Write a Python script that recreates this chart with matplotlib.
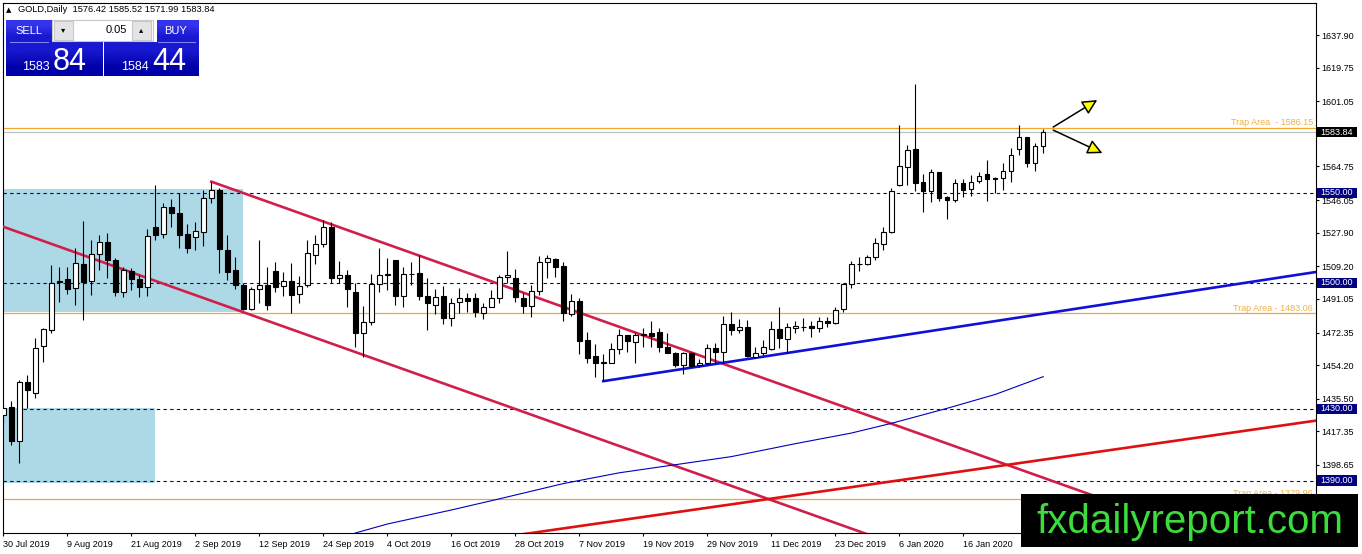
import numpy as np
import matplotlib
matplotlib.use('Agg')
import matplotlib.pyplot as plt
from matplotlib.patches import Rectangle

plt.rcParams['font.family'] = ['Liberation Sans', 'DejaVu Sans']

# daily candles, 30 Jul 2019 .. 30 Jan 2020
opens = [1426.4, 1430.7, 1412.1, 1444.6, 1438.9, 1465.0, 1473.7, 1501.3, 1502.1, 1496.9,
         1510.4, 1501.2, 1515.9, 1522.9, 1512.7, 1495.0, 1506.7, 1501.9, 1497.5, 1531.2,
         1527.0, 1542.0, 1539.0, 1527.2, 1525.7, 1528.4, 1547.0, 1551.6, 1518.3, 1507.1,
         1498.8, 1485.3, 1496.4, 1498.8, 1506.6, 1498.2, 1501.0, 1493.6, 1498.8, 1515.5,
         1521.6, 1530.9, 1502.8, 1504.3, 1495.0, 1471.9, 1478.4, 1499.3, 1505.0, 1512.7,
         1492.8, 1504.8, 1505.3, 1492.8, 1487.6, 1492.8, 1480.3, 1489.5, 1491.4, 1491.4,
         1483.4, 1486.7, 1491.4, 1503.1, 1502.5, 1491.4, 1487.1, 1495.6, 1511.7, 1513.1,
         1509.4, 1482.6, 1490.0, 1468.2, 1459.3, 1455.8, 1455.5, 1463.0, 1470.9, 1466.9,
         1470.9, 1471.9, 1472.8, 1464.1, 1460.8, 1454.3, 1461.1, 1454.3, 1455.2, 1463.9,
         1461.7, 1477.1, 1473.8, 1475.3, 1458.9, 1461.1, 1463.4, 1474.5, 1468.6, 1474.6,
         1475.5, 1475.9, 1474.6, 1478.6, 1477.5, 1485.3, 1499.3, 1510.4, 1510.4, 1514.2,
         1521.6, 1528.4, 1554.4, 1564.6, 1574.5, 1555.9, 1551.3, 1561.5, 1547.9, 1546.1,
         1555.4, 1552.0, 1556.8, 1560.4, 1558.5, 1558.2, 1562.2, 1574.3, 1581.0, 1566.5,
         1576.42]
highs = [1433.1, 1434.4, 1445.9, 1448.7, 1469.1, 1474.9, 1509.9, 1509.0, 1508.6, 1519.2,
         1534.6, 1523.8, 1526.6, 1527.9, 1513.6, 1509.0, 1508.1, 1504.3, 1529.8, 1554.4,
         1544.2, 1546.5, 1549.8, 1532.7, 1534.0, 1551.6, 1556.3, 1552.6, 1526.6, 1514.5,
         1499.7, 1497.8, 1523.8, 1509.0, 1511.7, 1506.2, 1510.8, 1503.8, 1523.8, 1526.6,
         1535.0, 1534.0, 1512.3, 1507.1, 1499.7, 1487.1, 1504.9, 1519.2, 1513.6, 1512.7,
         1509.0, 1511.7, 1515.5, 1502.5, 1496.4, 1498.2, 1491.4, 1497.0, 1494.2, 1494.5,
         1488.6, 1496.0, 1504.3, 1517.9, 1507.5, 1494.2, 1498.8, 1514.9, 1515.5, 1513.6,
         1511.7, 1493.8, 1491.4, 1472.8, 1465.9, 1460.4, 1466.3, 1474.3, 1470.9, 1472.8,
         1474.7, 1478.9, 1474.7, 1471.9, 1461.7, 1461.7, 1461.7, 1457.9, 1465.9, 1466.7,
         1481.5, 1484.0, 1479.7, 1479.3, 1464.4, 1468.2, 1478.9, 1486.7, 1477.5, 1478.9,
         1480.3, 1478.9, 1481.2, 1480.8, 1486.4, 1500.1, 1512.1, 1514.5, 1515.5, 1524.8,
         1531.2, 1552.6, 1587.8, 1576.7, 1610.6, 1560.5, 1563.2, 1561.9, 1548.3, 1557.6,
         1557.6, 1560.0, 1561.9, 1568.3, 1558.7, 1566.8, 1574.8, 1587.8, 1581.3, 1577.6,
         1585.52]
lows = [1422.0, 1409.7, 1399.9, 1430.1, 1435.7, 1456.1, 1471.9, 1489.5, 1493.8, 1487.6,
        1479.3, 1493.2, 1507.1, 1502.5, 1492.7, 1492.3, 1496.0, 1491.9, 1492.7, 1523.8,
        1524.8, 1531.2, 1519.2, 1516.4, 1518.3, 1520.5, 1544.2, 1505.6, 1501.6, 1496.4,
        1484.9, 1484.9, 1488.6, 1484.9, 1495.0, 1492.7, 1483.4, 1488.6, 1497.5, 1510.4,
        1520.1, 1499.7, 1499.7, 1486.4, 1464.1, 1458.9, 1476.6, 1495.0, 1496.0, 1487.6,
        1486.4, 1498.8, 1490.4, 1473.7, 1482.6, 1476.9, 1476.2, 1483.0, 1484.0, 1480.8,
        1479.7, 1486.4, 1489.0, 1499.7, 1489.5, 1483.4, 1480.8, 1493.2, 1502.8, 1503.4,
        1478.9, 1481.3, 1460.4, 1455.5, 1447.8, 1445.5, 1455.2, 1460.4, 1461.7, 1455.5,
        1464.1, 1464.4, 1461.7, 1460.8, 1453.4, 1449.3, 1453.4, 1453.4, 1454.3, 1455.5,
        1455.2, 1470.9, 1471.9, 1458.6, 1458.0, 1459.8, 1462.6, 1463.6, 1461.1, 1472.2,
        1473.4, 1470.0, 1472.8, 1475.3, 1477.1, 1483.9, 1496.9, 1506.8, 1509.9, 1512.7,
        1518.3, 1527.6, 1553.9, 1554.4, 1551.3, 1539.6, 1545.1, 1545.7, 1535.3, 1545.1,
        1547.6, 1548.3, 1555.7, 1545.7, 1550.1, 1551.6, 1556.3, 1571.1, 1564.3, 1562.4,
        1571.99]
closes = [1430.3, 1412.1, 1444.6, 1440.3, 1463.6, 1474.1, 1500.1, 1500.3, 1496.4, 1510.8,
          1500.6, 1516.0, 1522.5, 1512.7, 1495.0, 1507.1, 1501.9, 1497.5, 1526.2, 1526.6,
          1542.0, 1538.7, 1526.6, 1519.5, 1528.8, 1547.0, 1551.6, 1518.6, 1506.2, 1498.8,
          1485.3, 1496.4, 1498.8, 1487.6, 1497.8, 1501.0, 1493.2, 1498.2, 1516.4, 1521.4,
          1530.9, 1502.8, 1504.3, 1496.4, 1471.9, 1478.4, 1499.5, 1504.3, 1504.3, 1492.7,
          1504.7, 1505.1, 1492.8, 1488.6, 1492.3, 1480.6, 1488.9, 1491.4, 1490.1, 1484.0,
          1486.7, 1491.4, 1503.4, 1504.3, 1491.9, 1487.1, 1495.6, 1511.7, 1513.6, 1509.0,
          1483.4, 1490.0, 1467.8, 1458.3, 1455.2, 1455.2, 1463.2, 1470.9, 1467.6, 1470.9,
          1471.5, 1470.4, 1464.1, 1461.1, 1454.3, 1460.8, 1453.7, 1455.5, 1463.6, 1461.7,
          1477.1, 1473.8, 1475.3, 1459.3, 1461.1, 1464.4, 1474.1, 1469.1, 1475.3, 1475.9,
          1475.7, 1474.6, 1478.6, 1477.5, 1484.9, 1499.3, 1510.4, 1510.6, 1514.2, 1522.0,
          1528.4, 1551.3, 1565.0, 1573.9, 1555.7, 1551.3, 1561.5, 1547.0, 1546.1, 1555.4,
          1551.6, 1556.3, 1559.6, 1557.6, 1557.8, 1562.2, 1571.1, 1581.0, 1566.5, 1576.1,
          1583.84]
ask_price = 1584.44

# moving average (thin blue), sampled along the line
ma_bars = [44, 48, 56, 62, 70, 77, 84, 91, 99, 106, 111, 118, 124, 130]
ma_values = [1360.8, 1365.8, 1373.6, 1379.8, 1388.3, 1394.3, 1398.8, 1403.3, 1410.5,
             1416.4, 1421.8, 1430.2, 1437.9, 1447.8]

date_labels = ['30 Jul 2019', '9 Aug 2019', '21 Aug 2019', '2 Sep 2019', '12 Sep 2019',
               '24 Sep 2019', '4 Oct 2019', '16 Oct 2019', '28 Oct 2019', '7 Nov 2019',
               '19 Nov 2019', '29 Nov 2019', '11 Dec 2019', '23 Dec 2019', '6 Jan 2020',
               '16 Jan 2020']
y_ticks = [1637.90, 1619.75, 1601.05, 1564.75, 1546.05, 1527.90, 1509.20,
           1491.05, 1472.35, 1454.20, 1435.50, 1417.35, 1398.65, 1380.50]

# drawing objects
dashed_levels = [1550.00, 1500.00, 1430.00, 1390.00]
trap_levels = [1586.15, 1483.06, 1379.96]
trap_texts = ['Trap Area  - 1586.15', 'Trap Area - 1483.06', 'Trap Area - 1379.96']
boxes = [(-5, 30, 1483.5, 1552.2), (-5, 19, 1388.5, 1430.5)]   # bar0, bar1, low, high
channel_top = [(26, 1556.3), (70, 1486.6)]
channel_bottom = [(26, 1490.0), (70, 1420.3)]
blue_trend = [(75, 1445.3), (130, 1482.8)]
red_trend = [(66, 1360.8), (130, 1401.6)]
arrows = [((131.25, 1586.7), (136.75, 1601.7)), ((131.25, 1585.0), (137.4, 1572.2))]

W, H = 1362, 554
fig = plt.figure(figsize=(W / 100, H / 100), dpi=100)
ax = fig.add_axes([3 / W, 21 / H, 1313 / W, 530.5 / H])
ax.set_xlim(-0.05, 164.1)
ax.set_ylim(1360.8, 1656.0)

# light blue zones
for b0, b1, lo, hi in boxes:
    ax.add_patch(Rectangle((b0, lo), b1 - b0, hi - lo, facecolor='#ADD8E6',
                           edgecolor='none', zorder=0.5))

# horizontal levels
for lv in dashed_levels:
    ax.axhline(lv, color='#000080', lw=0.8, ls=(0, (3, 3)), zorder=1)
for lv, txt in zip(trap_levels, trap_texts):
    ax.axhline(lv, color='#F0A830', lw=0.9, zorder=1)
    ax.text(1 - 3 / 1313, lv + 0.4, txt, transform=ax.get_yaxis_transform(),
            ha='right', va='bottom', fontsize=6.5, color='#F0B040', zorder=1)
ax.axhline(closes[-1], color='#C0C0C0', lw=0.9, zorder=1)


def ray(p, q, start, end):
    slope = (q[1] - p[1]) / (q[0] - p[0])
    xs = np.array([start, end])
    return xs, p[1] + slope * (xs - p[0])


xs, ys = ray(*channel_top, 26, 200)
ax.plot(xs, ys, color='#D0204A', lw=1.9, zorder=3)
xs, ys = ray(*channel_bottom, -20, 200)
ax.plot(xs, ys, color='#D0204A', lw=1.9, zorder=3)
xs, ys = ray(*blue_trend, 75, 200)
ax.plot(xs, ys, color='#1010D8', lw=1.9, zorder=3)
xs, ys = ray(*red_trend, 40, 200)
ax.plot(xs, ys, color='#E01010', lw=1.9, zorder=3)
ax.plot(ma_bars, ma_values, color='#0000C0', lw=0.8, zorder=3)

# candles
idx = np.arange(len(opens))
o = np.array(opens)
c = np.array(closes)
ax.vlines(idx, lows, highs, color='black', lw=0.8, zorder=4)
up = c >= o
ax.bar(idx[up], (c - o)[up], bottom=o[up], width=0.56, color='white',
       edgecolor='black', linewidth=0.8, zorder=5)
ax.bar(idx[~up], (o - c)[~up], bottom=c[~up], width=0.56, color='black',
       edgecolor='black', linewidth=0.8, zorder=5)

for start, tip in arrows:
    ax.annotate('', xy=tip, xytext=start, zorder=6,
                arrowprops=dict(arrowstyle='-|>,head_length=1.0,head_width=0.5',
                                mutation_scale=9, fc='#FFFF00', ec='black', lw=1.1,
                                shrinkA=0, shrinkB=0))

# axes styling
for s in ax.spines.values():
    s.set_color('black')
    s.set_linewidth(0.8)
ax.yaxis.tick_right()
ax.set_yticks(y_ticks)
ax.set_yticklabels([f'{v:.2f}' for v in y_ticks])
ax.set_xticks(np.arange(len(date_labels)) * 8)
ax.set_xticklabels(date_labels)
plt.setp(ax.get_xticklabels(), ha='left')
ax.tick_params(axis='y', direction='out', length=2.2, width=0.8, pad=1.5, labelsize=6.5)
ax.tick_params(axis='x', direction='out', length=2.2, width=0.8, pad=2.5, labelsize=6.5)

# price labels on the right scale
ytr = ax.get_yaxis_transform()
for lv, fc in [(closes[-1], 'black')] + [(lv, '#000080') for lv in dashed_levels]:
    ax.add_patch(Rectangle((1 + 1 / 1313, lv - 2.8), 40 / 1313, 5.6, transform=ytr,
                           facecolor=fc, edgecolor='none', clip_on=False, zorder=7))
    ax.text(1 + 21 / 1313, lv, f'{lv:.2f}', transform=ytr, ha='center', va='center',
            fontsize=6.5, color='white', zorder=8, clip_on=False)


def fx(x):
    return x / W


def fy(y):
    return 1 - y / H


def grad_box(x0, y0, x1, y1, top, bottom):
    gax = fig.add_axes([fx(x0), fy(y1), fx(x1 - x0), (y1 - y0) / H])
    cols = np.array([matplotlib.colors.to_rgb(top), matplotlib.colors.to_rgb(bottom)])
    gax.imshow(cols[:, None, :], aspect='auto', interpolation='bilinear')
    gax.set_axis_off()


# header and one-click trading panel
fig.text(fx(6), fy(10), '\u25b2', fontsize=5, va='center', family=['DejaVu Sans'])
fig.text(fx(18), fy(10), f'GOLD,Daily  {opens[-1]:.2f} {highs[-1]:.2f} {lows[-1]:.2f} {closes[-1]:.2f}',
         fontsize=6.7, va='center')
grad_box(6, 20, 52, 42, '#3434EC', '#1818D0')
grad_box(157, 20, 199, 42, '#3434EC', '#1818D0')
grad_box(6, 42, 102, 76, '#1818D0', '#0000A8')
grad_box(104, 42, 199, 76, '#1818D0', '#0000A8')
fig.add_artist(Rectangle((fx(52), fy(41)), fx(101), 21 / H, facecolor='white',
                         edgecolor='#C8C8C8', lw=0.8))
fig.add_artist(Rectangle((fx(54), fy(40)), fx(19), 19 / H, facecolor='#E4E4E4',
                         edgecolor='#C8C8C8', lw=0.8))
fig.add_artist(Rectangle((fx(132), fy(40)), fx(19), 19 / H, facecolor='#E4E4E4',
                         edgecolor='#C8C8C8', lw=0.8))
fig.text(fx(63.5), fy(30), '\u25be', fontsize=6, ha='center', va='center', family=['DejaVu Sans'])
fig.text(fx(141.5), fy(30), '\u25b4', fontsize=6, ha='center', va='center', family=['DejaVu Sans'])
fig.text(fx(127), fy(30), '0.05', fontsize=8, ha='right', va='center')
fig.add_artist(plt.Line2D([fx(10), fx(48)], [fy(41.5), fy(41.5)], color='#8080F0', lw=0.8))
fig.add_artist(plt.Line2D([fx(158), fx(195)], [fy(41.5), fy(41.5)], color='#8080F0', lw=0.8))
fig.text(fx(28.5), fy(30.5), 'SELL', fontsize=8, color='white', ha='center', va='center')
fig.text(fx(176), fy(30.5), 'BUY', fontsize=8, color='white', ha='center', va='center')
bid_s = f'{closes[-1]:.2f}'
ask_s = f'{ask_price:.2f}'
fig.text(fx(50), fy(70), bid_s[:4], fontsize=9, color='white', ha='right', va='baseline')
fig.text(fx(53), fy(70), bid_s[5:], fontsize=22, color='white', ha='left', va='baseline')
fig.text(fx(149), fy(70), ask_s[:4], fontsize=9, color='white', ha='right', va='baseline')
fig.text(fx(152), fy(70), ask_s[5:], fontsize=22, color='white', ha='left', va='baseline')

# watermark
fig.add_artist(Rectangle((fx(1021), fy(547)), fx(337), 53 / H, facecolor='black',
                         edgecolor='none', zorder=10))
fig.text(fx(1190), fy(533), 'fxdailyreport.com', fontsize=29, color='#3CDC3C',
         ha='center', va='baseline', zorder=11)

fig.savefig('out.png', dpi=100)
